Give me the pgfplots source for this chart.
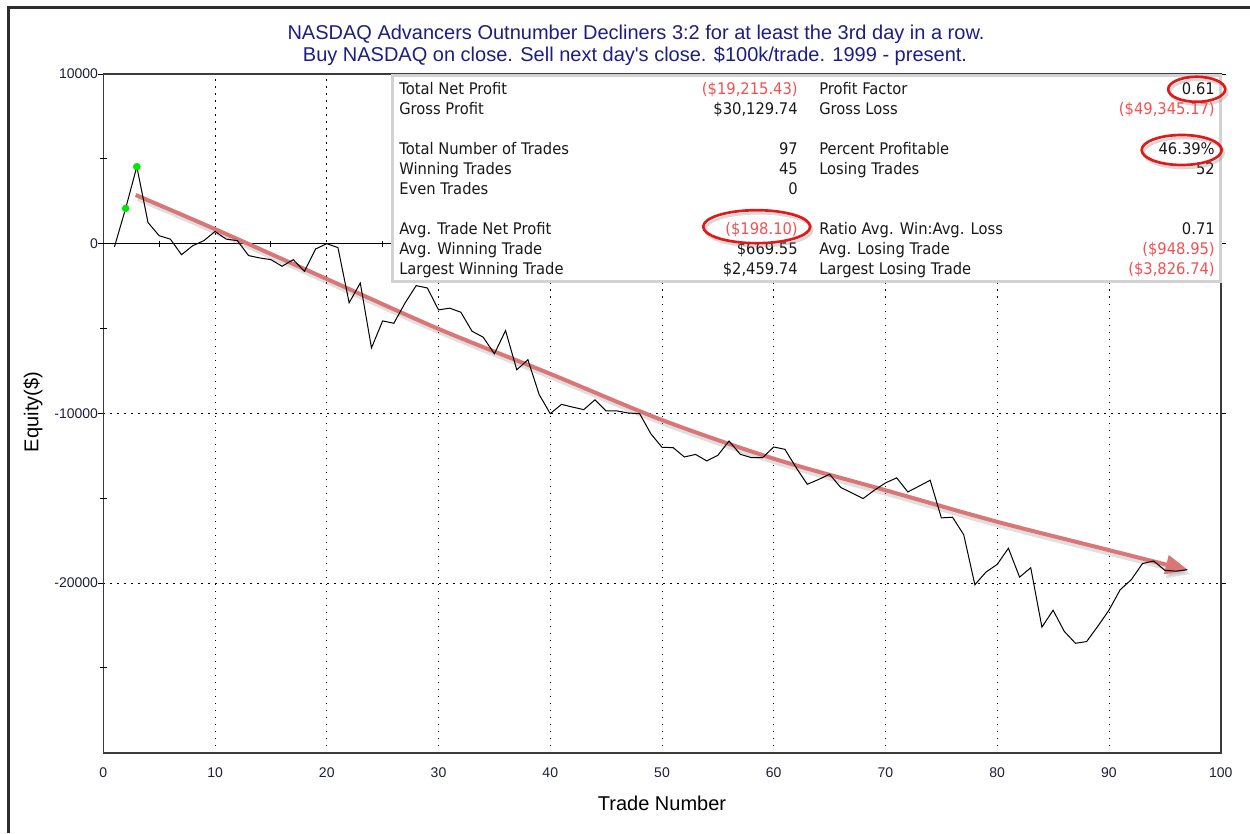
\documentclass[border=0pt]{standalone}
\usepackage{pgfplots}
\usepackage{pgfplotstable}
\pgfplotsset{compat=1.18}
\usepackage{fontspec}
\setmainfont{Liberation Sans}[Ligatures=TeXOff]
\newfontfamily\tahoma[FakeStretch=0.92]{DejaVu Sans}
\usetikzlibrary{arrows.meta}

\definecolor{navy}{RGB}{30,30,130}
\definecolor{tred}{RGB}{245,80,80}
\definecolor{ered}{RGB}{225,25,25}
\definecolor{arrowred}{RGB}{218,118,118}
\definecolor{framec}{RGB}{45,45,45}
\definecolor{axisc}{RGB}{60,60,60}
\definecolor{dotgreen}{RGB}{0,230,0}
\definecolor{tick}{RGB}{30,30,60}

% equity after each trade
\pgfplotstableread{
n equity
1 -180
2 2080
3 4540
4 1250
5 470
6 270
7 -650
8 -120
9 180
10 720
11 270
12 180
13 -700
14 -840
15 -940
16 -1330
17 -940
18 -1630
19 -310
20 0
21 -230
22 -3480
23 -2320
24 -6140
25 -4550
26 -4690
27 -3500
28 -2470
29 -2610
30 -3900
31 -3800
32 -4040
33 -5160
34 -5510
35 -6490
36 -5120
37 -7430
38 -6840
39 -8880
40 -10020
41 -9470
42 -9630
43 -9780
44 -9200
45 -9860
46 -9860
47 -9980
48 -10020
49 -11200
50 -12000
51 -12020
52 -12570
53 -12420
54 -12800
55 -12470
56 -11630
57 -12410
58 -12610
59 -12610
60 -11980
61 -12120
62 -13190
63 -14180
64 -13900
65 -13590
66 -14370
67 -14690
68 -15020
69 -14530
70 -14100
71 -13800
72 -14630
73 -14290
74 -13940
75 -16160
76 -16120
77 -17150
78 -20100
79 -19350
80 -18900
81 -17950
82 -19650
83 -19100
84 -22600
85 -21600
86 -22850
87 -23550
88 -23450
89 -22550
90 -21600
91 -20400
92 -19800
93 -18850
94 -18700
95 -19250
96 -19300
97 -19215
}\equity

% hand-drawn trend arrow
\pgfplotstableread{
n trend
2.9 2870
10 860
20 -2080
30 -5020
40 -7670
50 -10390
60 -12670
70 -14530
80 -16390
90 -18060
97.1 -19240
}\trend

\begin{document}
\begin{tikzpicture}
\useasboundingbox (0,0) rectangle (937.5pt,624.75pt);
\fill[white] (0,0) rectangle (937.5pt,624.75pt);

\begin{axis}[
    at={(77.475pt,60.225pt)}, anchor=south west,
    scale only axis, width=838.05pt, height=509pt,
    xmin=0, xmax=100, ymin=-30000, ymax=10000,
    scaled y ticks=false, scaled x ticks=false,
    xtick={0,10,...,100},
    xticklabels={0,10,20,30,40,50,60,70,80,90,100},
    ytick={-20000,-10000,0,10000},
    yticklabels={-20000,-10000,0,10000},
    xmajorgrids, ymajorgrids,
    major grid style={black, line width=0.6pt, dash pattern=on 0.9pt off 4.35pt},
    axis line style={draw=axisc, line width=1.2pt},
    tick align=outside, major tick length=3.75pt,
    xtick style={draw=none},
    ytick style={black, line width=0.8pt},
    ticklabel style={font=\fontsize{10.5}{12}\selectfont, text=tick, inner sep=0pt},
    xticklabel style={yshift=-7.5pt},
    clip=false,
]
\addplot[black, line width=0.75pt] coordinates {(0,0) (100,0)};
\addplot[black, only marks, mark=|, mark size=2.25pt, mark options={line width=0.75pt}]
    coordinates {(5,0) (15,0) (25,0) (35,0) (45,0) (55,0) (65,0) (75,0) (85,0) (95,0)};
\addplot[black, only marks, mark=-, mark size=2.6pt, mark options={line width=0.75pt}]
    coordinates {(0,5000) (0,-5000) (0,-15000) (0,-25000)};

\addplot[gray, opacity=0.25, smooth, line width=3pt, xshift=1.5pt, yshift=-3pt,
    -{Triangle[length=17pt,width=14pt]}] table[x=n,y=trend]{\trend};
\addplot[arrowred, smooth, line width=3pt,
    -{Triangle[length=17pt,width=14pt]}] table[x=n,y=trend]{\trend};

\addplot[black, line width=0.75pt] table[x=n,y=equity]{\equity};
\addplot[dotgreen, only marks, mark=*, mark size=2.6pt, mark options={draw=dotgreen, fill=dotgreen}]
    coordinates {(2,2080) (3,4540)};
\end{axis}

\begin{scope}[x=0.75pt, y=-0.75pt, shift={(0pt,624.75pt)}]
  % window frame
  \draw[framec, line width=2.25pt] (8.5,833) -- (8.5,7.5) -- (1250,7.5);

  % title
  \node[navy, font=\fontsize{15}{17}\selectfont, anchor=base, inner sep=0pt] at (636,39.5)
    {NASDAQ Advancers Outnumber Decliners 3:2 for at least the 3rd day in a row.};
  \node[navy, font=\fontsize{15}{17}\selectfont, anchor=base, inner sep=0pt] at (635,62)
    {Buy NASDAQ on close. Sell next day's close. \$100k/trade. 1999 - present.};

  % axis titles
  \node[font=\fontsize{15}{17}\selectfont, rotate=90, inner sep=0pt] at (33,412) {Equity(\$)};
  \node[font=\fontsize{15}{17}\selectfont, inner sep=0pt] at (662,803) {Trade Number};

  % statistics box
  \draw[draw=gray!35, fill=white, line width=2.25pt] (392.5,76) rectangle (1220.5,281.5);
  \begin{scope}[every node/.style={inner sep=0pt, font=\tahoma\fontsize{12}{14}\selectfont, text={rgb,255:red,25;green,25;blue,25}}]
    \node[anchor=base west] at (399,95) {Total Net Profit};
    \node[anchor=base east, text=tred] at (798,95) {(\$19,215.43)};
    \node[anchor=base west] at (819,95) {Profit Factor};
    \node[anchor=base east] at (1215,95) {0.61};

    \node[anchor=base west] at (399,115) {Gross Profit};
    \node[anchor=base east] at (798,115) {\$30,129.74};
    \node[anchor=base west] at (819,115) {Gross Loss};
    \node[anchor=base east, text=tred] at (1215,115) {(\$49,345.17)};

    \node[anchor=base west] at (399,155) {Total Number of Trades};
    \node[anchor=base east] at (798,155) {97};
    \node[anchor=base west] at (819,155) {Percent Profitable};
    \node[anchor=base east] at (1215,155) {46.39\%};

    \node[anchor=base west] at (399,175) {Winning Trades};
    \node[anchor=base east] at (798,175) {45};
    \node[anchor=base west] at (819,175) {Losing Trades};
    \node[anchor=base east] at (1215,175) {52};

    \node[anchor=base west] at (399,195) {Even Trades};
    \node[anchor=base east] at (798,195) {0};

    \node[anchor=base west] at (399,235) {Avg. Trade Net Profit};
    \node[anchor=base east, text=tred] at (798,235) {(\$198.10)};
    \node[anchor=base west] at (819,235) {Ratio Avg. Win:Avg. Loss};
    \node[anchor=base east] at (1215,235) {0.71};

    \node[anchor=base west] at (399,255) {Avg. Winning Trade};
    \node[anchor=base east] at (798,255) {\$669.55};
    \node[anchor=base west] at (819,255) {Avg. Losing Trade};
    \node[anchor=base east, text=tred] at (1215,255) {(\$948.95)};

    \node[anchor=base west] at (399,275) {Largest Winning Trade};
    \node[anchor=base east] at (798,275) {\$2,459.74};
    \node[anchor=base west] at (819,275) {Largest Losing Trade};
    \node[anchor=base east, text=tred] at (1215,275) {(\$3,826.74)};
  \end{scope}

  % highlight ellipses
  \foreach \cx/\cy/\rx/\ry in {1196.7/89.3/28.5/12.5, 1181.7/150/40/15, 756.7/226.7/53.5/16.5} {
    \draw[gray, opacity=0.3, line width=2pt] (\cx+2,\cy+3) ellipse [x radius=\rx*0.75pt, y radius=\ry*0.75pt];
    \draw[ered, line width=2pt] (\cx,\cy) ellipse [x radius=\rx*0.75pt, y radius=\ry*0.75pt];
  }
\end{scope}
\end{tikzpicture}
\end{document}
